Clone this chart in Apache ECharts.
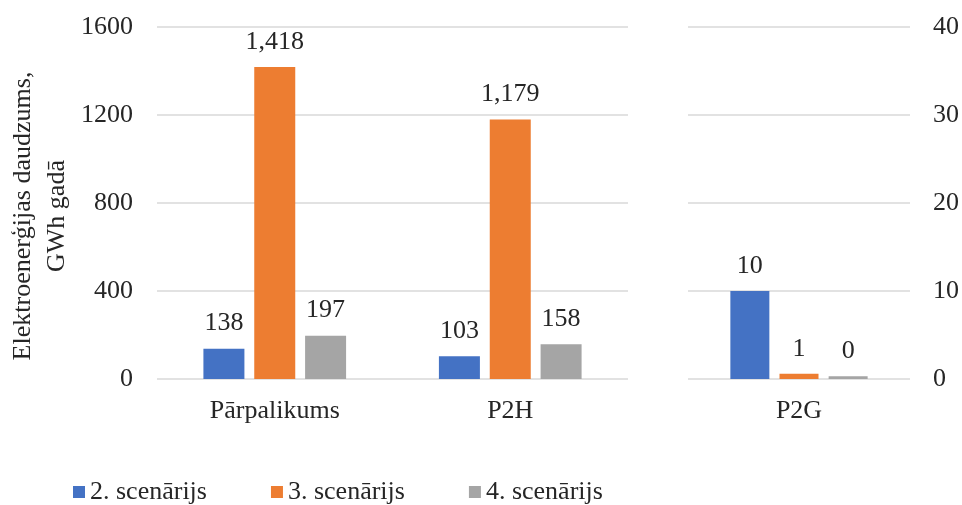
<!DOCTYPE html>
<html>
<head>
<meta charset="utf-8">
<script src="https://cdn.jsdelivr.net/npm/echarts@6/dist/echarts.min.js"></script>
<style>
  html, body { margin: 0; padding: 0; background: #fff; }
  #chart { width: 962px; height: 505px; }
</style>
</head>
<body>
<div id="chart"></div>
<script>
// Electricity amounts per scenario (GWh per year)
const leftCategories = ['Pārpalikums', 'P2H'];
const rightCategories = ['P2G'];
const seriesNames = ['2. scenārijs', '3. scenārijs', '4. scenārijs'];
const yTitle = 'Elektroenerģijas daudzums,\nGWh gadā';

const scenario2Left = [138, 103];
const scenario3Left = [1418, 1179];
const scenario4Left = [197, 158];

const scenario2Right = [10];
const scenario3Right = [0.6];
const scenario4Right = [0.3];

const leftTicks = [0, 400, 800, 1200, 1600];
const rightTicks = [0, 10, 20, 30, 40];

const colors = ['#4472C4', '#ED7D31', '#A5A5A5'];
const FONT = '"Liberation Serif", "Times New Roman", Times, serif';
const TEXT = '#262626';
const SIZE = 26;

const valueLabel = {
  show: true,
  position: 'top',
  distance: 12,
  fontFamily: FONT,
  fontSize: SIZE,
  color: TEXT,
  formatter: p => Math.round(p.value).toLocaleString('en-US')
};

function bars(name, data, axisIndex, color, width, gap) {
  return {
    name: name,
    type: 'bar',
    xAxisIndex: axisIndex,
    yAxisIndex: axisIndex,
    data: data,
    barWidth: width,
    barGap: gap,
    itemStyle: { color: color },
    label: valueLabel,
    emphasis: { disabled: true }
  };
}

const splitStyle = { show: true, lineStyle: { color: '#d9d9d9', width: 1.5 } };

const chart = echarts.init(document.getElementById('chart'), null, { renderer: 'canvas' });
chart.setOption({
  animation: false,
  backgroundColor: '#fff',
  color: colors,
  textStyle: { fontFamily: FONT },
  legend: {
    left: 68,
    top: 474,
    itemWidth: 12,
    itemHeight: 12,
    itemGap: 64,
    icon: 'rect',
    textStyle: { fontFamily: FONT, fontSize: SIZE, color: TEXT },
    data: seriesNames
  },
  graphic: [
    {
      type: 'text',
      x: 40,
      y: 216,
      rotation: Math.PI / 2,
      style: {
        text: yTitle,
        font: SIZE + 'px ' + FONT,
        fill: TEXT,
        align: 'center',
        verticalAlign: 'middle',
        lineHeight: 34
      }
    }
  ],
  grid: [
    { left: 157, right: 334, top: 27, bottom: 126, outerBoundsMode: 'none', containLabel: false },
    { left: 688, right: 52, top: 27, bottom: 126, outerBoundsMode: 'none', containLabel: false }
  ],
  xAxis: [
    {
      type: 'category', gridIndex: 0, data: leftCategories,
      axisLine: { show: false }, axisTick: { show: false },
      axisLabel: { margin: 19, fontFamily: FONT, fontSize: SIZE, color: TEXT }
    },
    {
      type: 'category', gridIndex: 1, data: rightCategories,
      axisLine: { show: false }, axisTick: { show: false },
      axisLabel: { margin: 19, fontFamily: FONT, fontSize: SIZE, color: TEXT }
    }
  ],
  yAxis: [
    {
      type: 'value', gridIndex: 0,
      min: leftTicks[0], max: leftTicks[leftTicks.length - 1], interval: leftTicks[1] - leftTicks[0],
      axisLine: { show: false }, axisTick: { show: false },
      splitLine: splitStyle,
      axisLabel: { margin: 24, fontFamily: FONT, fontSize: SIZE, color: TEXT, formatter: v => String(v) }
    },
    {
      type: 'value', gridIndex: 1, position: 'right',
      min: rightTicks[0], max: rightTicks[rightTicks.length - 1], interval: rightTicks[1] - rightTicks[0],
      axisLine: { show: false }, axisTick: { show: false },
      splitLine: splitStyle,
      axisLabel: { margin: 23, fontFamily: FONT, fontSize: SIZE, color: TEXT, formatter: v => String(v) }
    }
  ],
  series: [
    bars(seriesNames[0], scenario2Left, 0, colors[0], 41, '24%'),
    bars(seriesNames[1], scenario3Left, 0, colors[1], 41, '24%'),
    bars(seriesNames[2], scenario4Left, 0, colors[2], 41, '24%'),
    bars(seriesNames[0], scenario2Right, 1, colors[0], 39, '26%'),
    bars(seriesNames[1], scenario3Right, 1, colors[1], 39, '26%'),
    bars(seriesNames[2], scenario4Right, 1, colors[2], 39, '26%')
  ]
});
</script>
</body>
</html>
